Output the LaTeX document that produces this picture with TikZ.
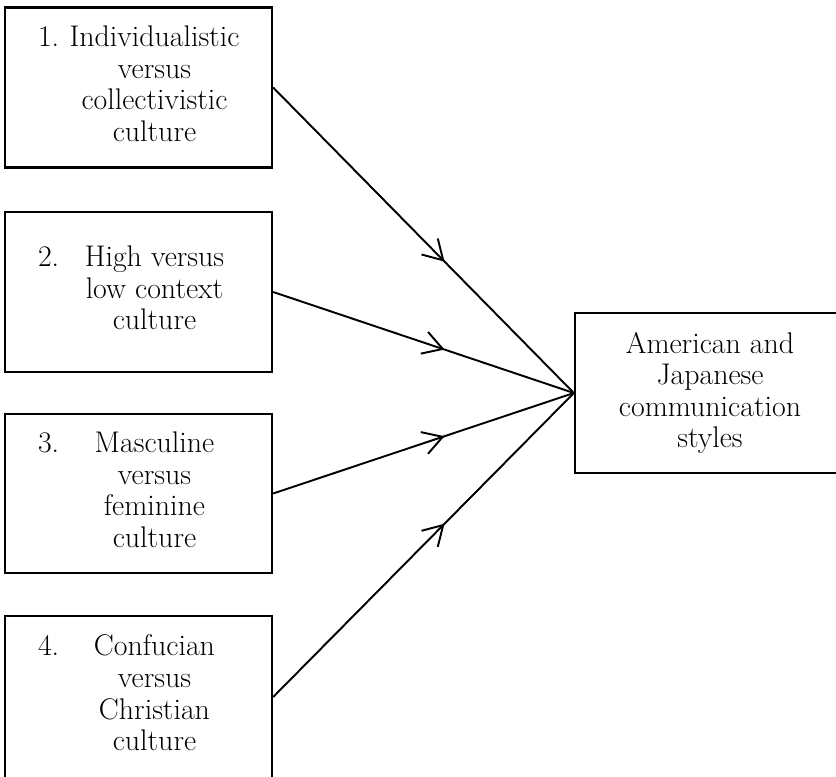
\documentclass[tikz,border=0pt]{standalone}
\usepackage{tikz}
\usetikzlibrary{arrows.meta,decorations.markings,positioning,calc}

\begin{document}
\begin{tikzpicture}[
            font=\fontsize{17}{18}\selectfont,
            factor/.style={draw, line width=1.3pt, minimum width=5.34cm, minimum height=3.2cm, inner sep=0pt},
            result/.style={draw, line width=1.3pt, minimum width=5.4cm, minimum height=3.2cm, inner sep=0pt, align=center},
            flow/.style={line width=1.1pt, postaction={decorate},
                decoration={markings, mark=at position 0.57 with {\arrow{Straight Barb[length=11pt, width=13pt, line width=1.1pt]}}}}
        ]

            \clip (0,0) rectangle (16.72,15.52);

% boxes
            \node[factor] (f1) at (2.77,13.77) {\begin{tabular}{@{}p{0.64cm}@{}c@{}}1. & \makebox[3.38cm]{Individualistic}\\ & versus\\ & collectivistic\\ & culture\end{tabular}};
            \node[factor] (f2) at (2.77,9.68) {\begin{tabular}{@{}p{0.64cm}@{}c@{}}2. & \makebox[3.38cm]{High versus}\\ & low context\\ & culture\end{tabular}};
            \node[factor, minimum height=3.18cm] (f3) at (2.77,5.65) {\begin{tabular}{@{}p{0.64cm}@{}c@{}}3. & \makebox[3.38cm]{Masculine}\\ & versus\\ & feminine\\ & culture\end{tabular}};
            \node[factor, minimum height=3.24cm] (f4) at (2.77,1.58) {\begin{tabular}{@{}p{0.64cm}@{}c@{}}4. & \makebox[3.38cm]{Confucian}\\ & versus\\ & Christian\\ & culture\end{tabular}};

            \node[result] (styles) at (14.2,7.66) {American and\\Japanese\\communication\\styles};

% arrows
            \draw[flow] (f1.east) -- (styles.west);
            \draw[flow] (f2.east) -- (styles.west);
            \draw[flow] (f3.east) -- (styles.west);
            \draw[flow] (f4.east) -- (styles.west);

        \end{tikzpicture}
\end{document}
